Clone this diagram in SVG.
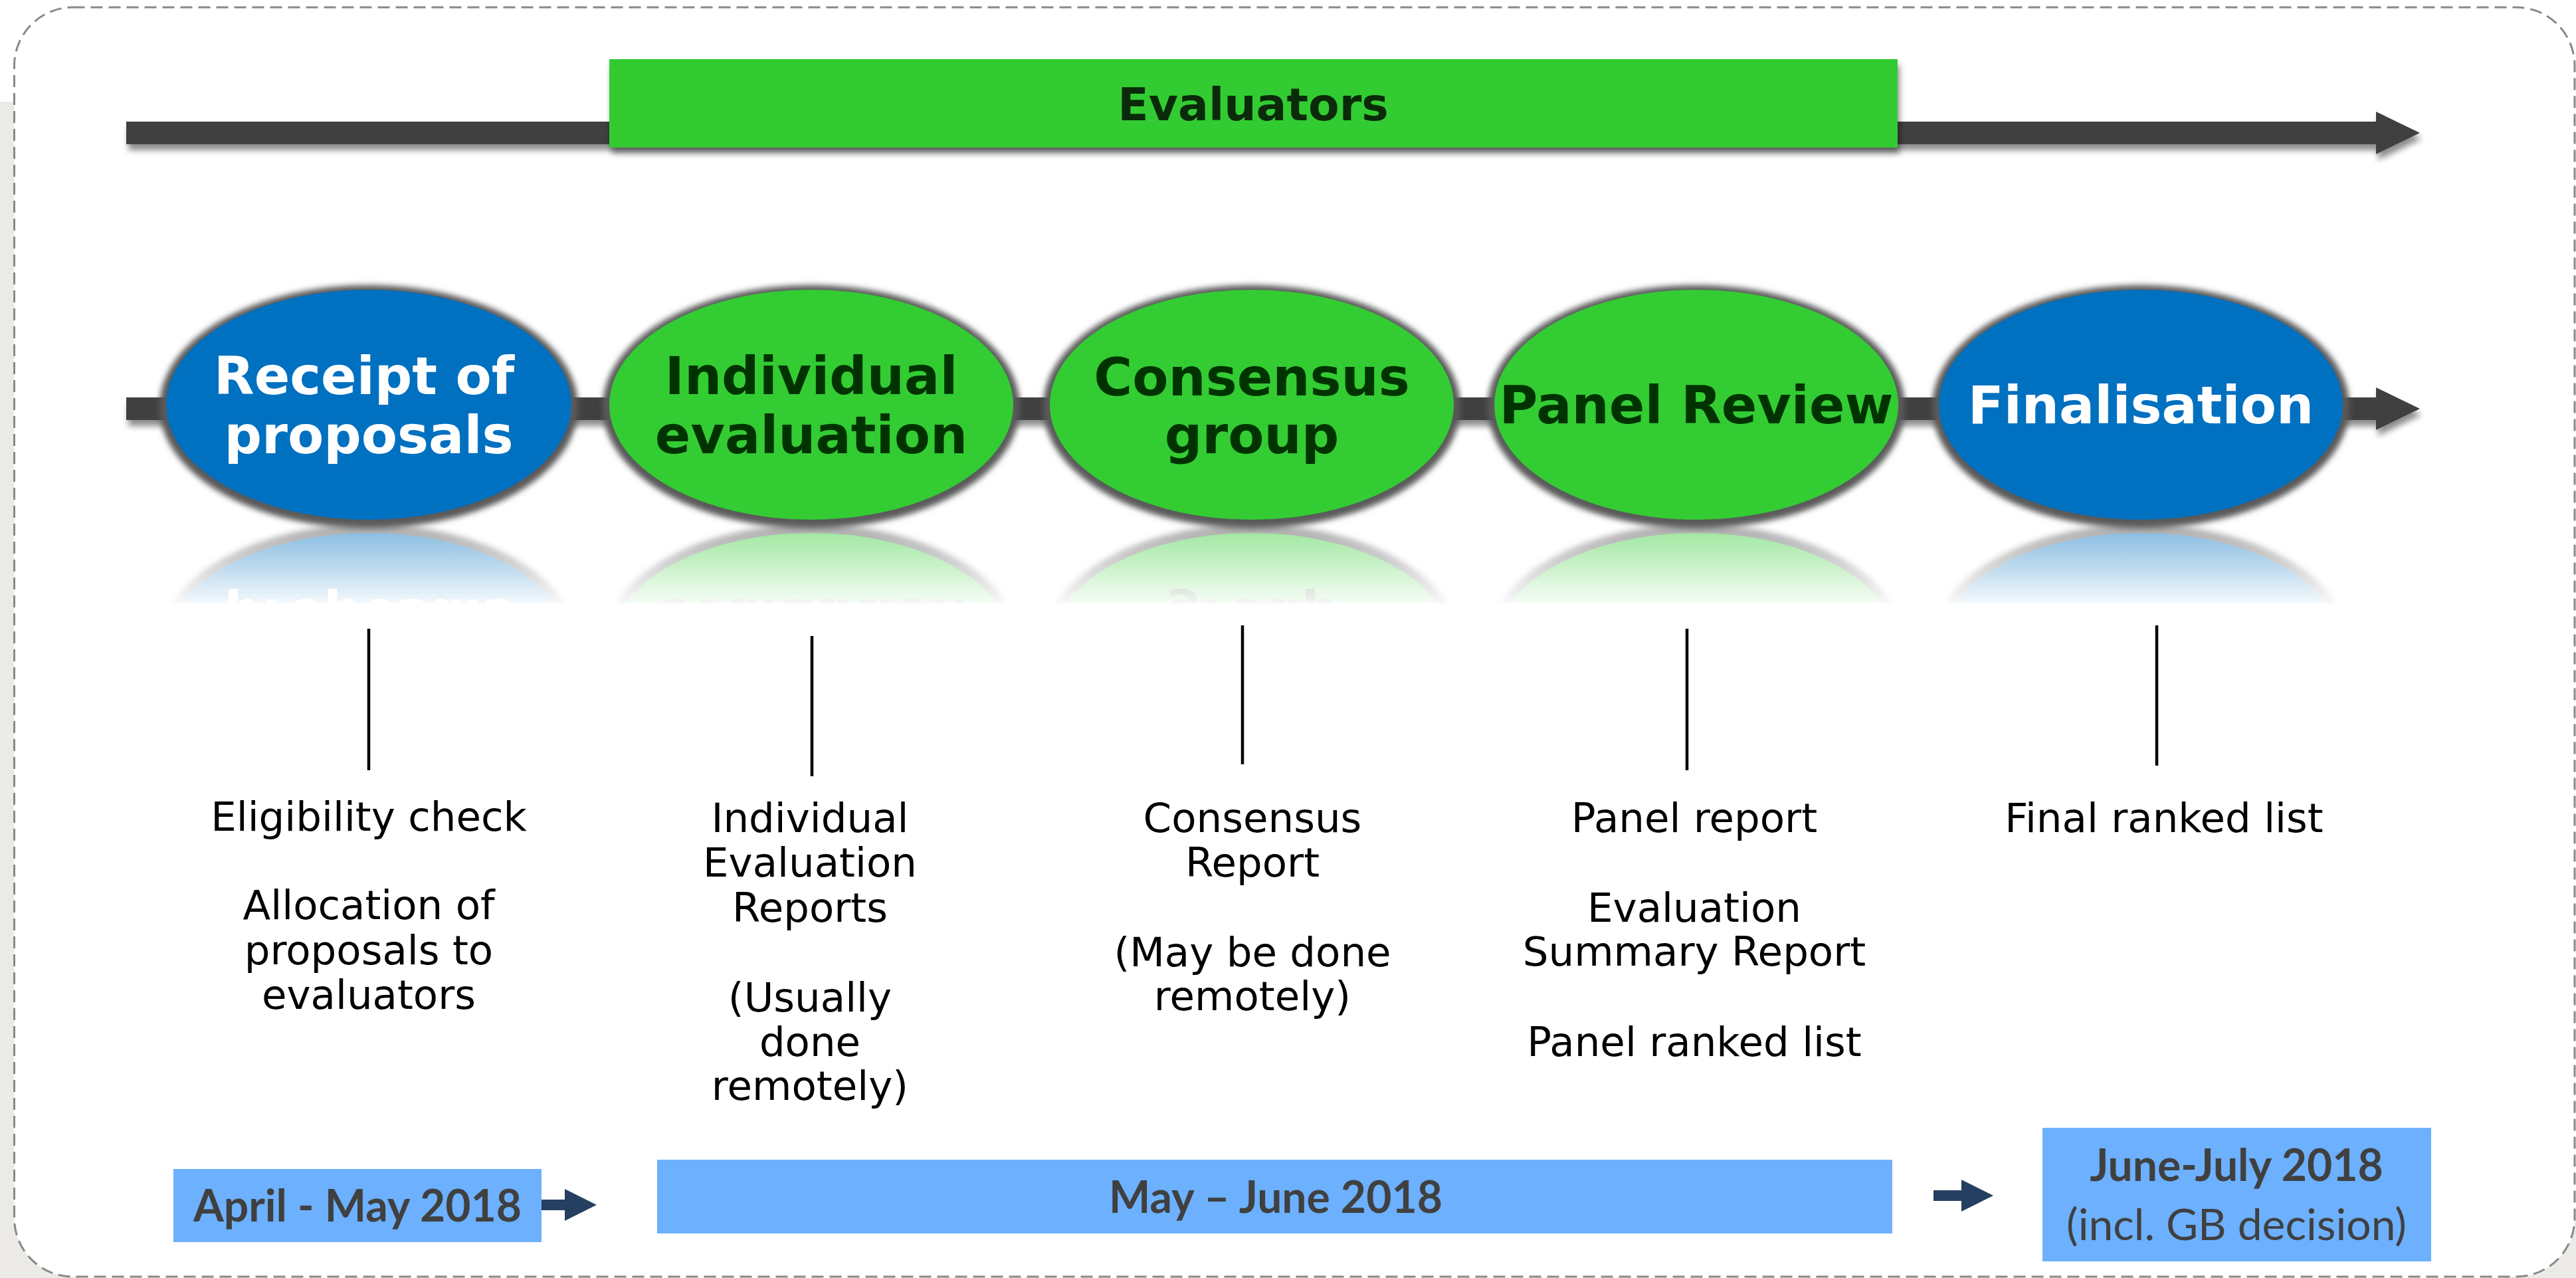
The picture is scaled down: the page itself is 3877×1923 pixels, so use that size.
<svg xmlns="http://www.w3.org/2000/svg" xmlns:xlink="http://www.w3.org/1999/xlink" width="3877" height="1923" viewBox="0 0 3877 1923">
<style>
.bar{fill:#404040}
.vline{stroke:#000;stroke-width:4.5;fill:none}
.small{fill:#243F60}
.ring{fill:#5a5a5a}
.blue{fill:#0070C0}
.green{fill:#33CC33}
.date{fill:#6CB0FE}
.t-w{font-family:"DejaVu Sans",Verdana,sans-serif;font-weight:bold;font-size:79px;fill:#fff;text-anchor:middle}
.t-g{font-family:"DejaVu Sans",Verdana,sans-serif;font-weight:bold;font-size:79px;fill:#003300;text-anchor:middle}
.ev{font-family:"DejaVu Sans",Verdana,sans-serif;font-weight:bold;font-size:68px;fill:#0a2a0a;text-anchor:middle}
.desc{font-family:"DejaVu Sans",Verdana,sans-serif;font-size:61px;fill:#000;text-anchor:middle}
.db{font-family:Lato,"Open Sans",sans-serif;font-weight:bold;font-size:66px;fill:#404040;text-anchor:middle}
.dr{font-family:Lato,"Open Sans",sans-serif;font-size:66px;fill:#404040;text-anchor:middle}
</style>
<defs>
<filter id="sh" x="-5%" y="-60%" width="110%" height="260%">
<feGaussianBlur in="SourceAlpha" stdDeviation="5"/>
<feOffset dx="3" dy="9" result="b"/>
<feComponentTransfer in="b" result="c"><feFuncA type="linear" slope="0.45"/></feComponentTransfer>
<feMerge><feMergeNode in="c"/><feMergeNode in="SourceGraphic"/></feMerge>
</filter>
<filter id="blur" x="-10%" y="-15%" width="120%" height="130%">
<feGaussianBlur stdDeviation="4.5"/>
</filter>
<linearGradient id="rg" gradientUnits="userSpaceOnUse" x1="0" y1="790" x2="0" y2="910">
<stop offset="0" stop-color="#fff" stop-opacity="0.5"/>
<stop offset="0.95" stop-color="#fff" stop-opacity="0.06"/>
<stop offset="1" stop-color="#fff" stop-opacity="0"/>
</linearGradient>
<mask id="rm" maskUnits="userSpaceOnUse" x="0" y="780" width="3877" height="140">
<rect x="0" y="780" width="3877" height="130" fill="url(#rg)"/>
</mask>
</defs>

<rect width="3877" height="1923" fill="#fff"/>
<rect x="0" y="153" width="22" height="1770" fill="#EBEAE6"/>
<rect x="0" y="1820" width="120" height="103" fill="#EBEAE6"/>
<rect x="3770" y="1820" width="107" height="103" fill="#EBEAE6"/>
<rect id="frame" x="21.5" y="11" width="3853.5" height="1910" rx="88" ry="88" fill="#fff" stroke="#888" stroke-width="3" stroke-dasharray="18 9"/>

<g id="connectors">
<polygon class="bar" filter="url(#sh)" points="190,183 3576,183 3576,168 3642,200 3576,232 3576,217 190,217"/>
<polygon class="bar" filter="url(#sh)" points="190,598 3576,598 3576,583 3642,615 3576,647 3576,632 190,632"/>
<line class="vline" x1="555" y1="946" x2="555" y2="1159"/>
<line class="vline" x1="1222" y1="957" x2="1222" y2="1168"/>
<line class="vline" x1="1870" y1="941" x2="1870" y2="1150"/>
<line class="vline" x1="2539" y1="946" x2="2539" y2="1159"/>
<line class="vline" x1="3246" y1="941" x2="3246" y2="1152"/>
<polygon class="small" points="808,1805 850,1805 850,1789 898,1813 850,1837 850,1821 808,1821"/>
<polygon class="small" points="2910,1791 2952,1791 2952,1775 3000,1799 2952,1823 2952,1807 2910,1807"/>
</g>

<g id="evaluators">
<rect class="green" filter="url(#sh)" x="917" y="89" width="1939" height="133"/>
<text class="ev" x="1886" y="181">Evaluators</text>
</g>

<g id="reflections" mask="url(#rm)">
<use xlink:href="#n1" href="#n1" transform="matrix(1 0 0 -1 0 1584)"/>
<use xlink:href="#n2" href="#n2" transform="matrix(1 0 0 -1 0 1584)"/>
<use xlink:href="#n3" href="#n3" transform="matrix(1 0 0 -1 0 1584)"/>
<use xlink:href="#n4" href="#n4" transform="matrix(1 0 0 -1 0 1584)"/>
<use xlink:href="#n5" href="#n5" transform="matrix(1 0 0 -1 0 1584)"/>
</g>

<g id="n1">
<ellipse class="ring" filter="url(#blur)" cx="555" cy="612" rx="315" ry="183"/>
<ellipse class="blue" cx="555" cy="609" rx="305" ry="173"/>
<text class="t-w" x="548" y="593">Receipt of</text>
<text class="t-w" x="555" y="682">proposals</text>
</g>
<g id="n2">
<ellipse class="ring" filter="url(#blur)" cx="1221" cy="612" rx="314" ry="183"/>
<ellipse class="green" cx="1221" cy="609" rx="304" ry="173"/>
<text class="t-g" x="1221" y="593">Individual</text>
<text class="t-g" x="1221" y="682">evaluation</text>
</g>
<g id="n3">
<ellipse class="ring" filter="url(#blur)" cx="1884" cy="612" rx="314" ry="183"/>
<ellipse class="green" cx="1884" cy="609" rx="304" ry="173"/>
<text class="t-g" x="1884" y="595">Consensus</text>
<text class="t-g" x="1884" y="682">group</text>
</g>
<g id="n4">
<ellipse class="ring" filter="url(#blur)" cx="2553" cy="612" rx="314" ry="183"/>
<ellipse class="green" cx="2553" cy="609" rx="304" ry="173"/>
<text class="t-g" x="2553" y="637">Panel Review</text>
</g>
<g id="n5">
<ellipse class="ring" filter="url(#blur)" cx="3222" cy="612" rx="314" ry="183"/>
<ellipse class="blue" cx="3222" cy="609" rx="304" ry="173"/>
<text class="t-w" x="3222" y="637">Finalisation</text>
</g>

<g id="d1">
<text class="desc" x="555" y="1250">Eligibility check</text>
<text class="desc" x="555" y="1383">Allocation of</text>
<text class="desc" x="555" y="1451">proposals to</text>
<text class="desc" x="555" y="1518">evaluators</text>
</g>
<g id="d2">
<text class="desc" x="1219" y="1252">Individual</text>
<text class="desc" x="1219" y="1319">Evaluation</text>
<text class="desc" x="1219" y="1387">Reports</text>
<text class="desc" x="1219" y="1522">(Usually</text>
<text class="desc" x="1219" y="1589">done</text>
<text class="desc" x="1219" y="1655">remotely)</text>
</g>
<g id="d3">
<text class="desc" x="1885" y="1252">Consensus</text>
<text class="desc" x="1885" y="1319">Report</text>
<text class="desc" x="1885" y="1454">(May be done</text>
<text class="desc" x="1885" y="1520">remotely)</text>
</g>
<g id="d4">
<text class="desc" x="2550" y="1252">Panel report</text>
<text class="desc" x="2550" y="1387">Evaluation</text>
<text class="desc" x="2550" y="1453">Summary Report</text>
<text class="desc" x="2550" y="1589">Panel ranked list</text>
</g>
<g id="d5">
<text class="desc" x="3257" y="1252">Final ranked list</text>
</g>

<g id="date1">
<rect class="date" x="261" y="1759" width="554" height="110"/>
<text class="db" x="538" y="1838">April - May 2018</text>
</g>
<g id="date2">
<rect class="date" x="989" y="1745" width="1859" height="111"/>
<text class="db" x="1920" y="1825">May – June 2018</text>
</g>
<g id="date3">
<rect class="date" x="3074" y="1697" width="585" height="201"/>
<text class="db" x="3366" y="1777">June-July 2018</text>
<text class="dr" x="3366" y="1866">(incl. GB decision)</text>
</g>
</svg>
